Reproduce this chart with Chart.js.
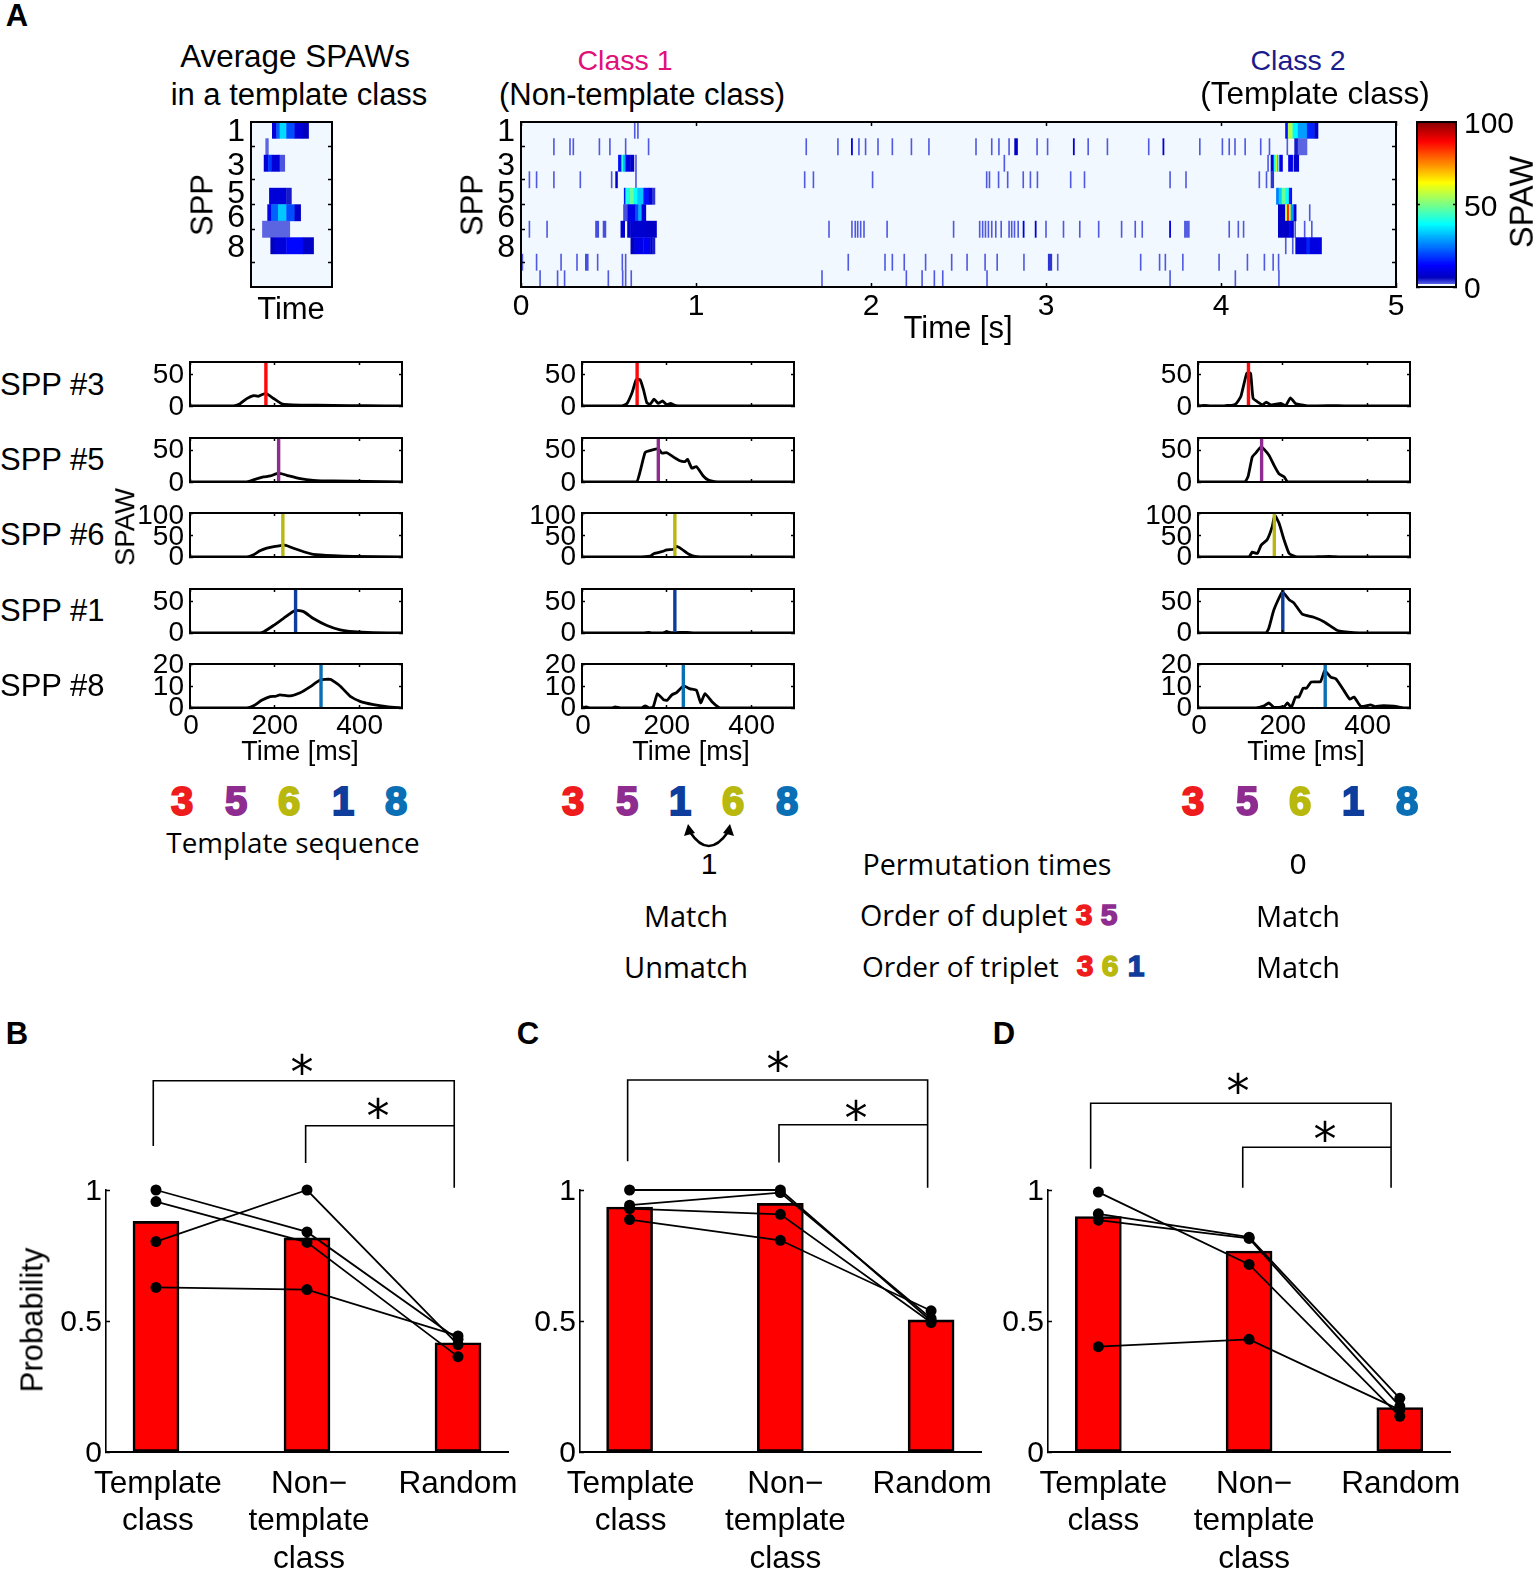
<!DOCTYPE html>
<html><head><meta charset="utf-8">
<script src="https://cdn.jsdelivr.net/npm/chart.js@4"></script>
<style>
html,body{margin:0;padding:0;background:#fff;width:1536px;height:1569px;overflow:hidden}
canvas{position:absolute;display:block}
.t{position:absolute;white-space:nowrap;font-family:"Liberation Sans",Arial,sans-serif;color:#000;line-height:1;transform:translate(-50%,-50%)}
svg{position:absolute;left:0;top:0}
</style></head><body>
<script>
/* ---------- raster data: row N spike times [s], runs are [start, end, SPAW] ---------- */
const rowLabels=['1','2','3','4','5','6','7','8','9','10'];
const heatYTickIndex=[0,2,4,5,7];
const heatYTickShift=[2,3,-2,5,2];
const row1Spikes=[0.65,0.668];
const row2Spikes=[0.188,0.28,0.299,0.448,0.508,0.598,0.729,1.63,1.811,1.931,1.969,2.04,2.122,2.231,2.331,2.6,2.69,2.731,2.789,2.949,3.009,3.241,3.351,3.587,3.879,4.008,4.047,4.08,4.138,4.227,4.277,4.379];
const row3Spikes=[0.657,2.762,4.269];
const row4Spikes=[0.048,0.089,0.188,0.339,0.518,0.657,1.621,1.671,2.009,2.661,2.677,2.729,2.781,2.87,2.911,2.951,3.141,3.22,3.709,3.8,4.219,4.26];
const row5Spikes=[];
const row6Spikes=[4.507];
const row7Spikes=[0.048,0.149,1.76,1.891,1.91,1.924,1.941,1.96,2.092,2.472,2.621,2.638,2.654,2.671,2.69,2.713,2.744,2.789,2.804,2.82,2.841,3.0,3.1,3.193,3.301,3.432,3.51,3.55,4.047,4.099,4.129,4.424,4.478,4.519];
const row8Spikes=[4.37,4.41];
const row9Spikes=[0.008,0.089,0.229,0.32,0.438,0.579,0.598,1.87,2.08,2.122,2.19,2.312,2.461,2.549,2.652,2.721,2.874,3.067,3.541,3.649,3.682,3.782,3.989,4.151,4.248,4.298,4.329];
const row10Spikes=[0.109,0.209,0.249,0.499,0.581,0.598,0.63,1.72,2.202,2.292,2.362,2.41,2.663,3.709,4.082,4.331];
const row1Runs=[[4.368,4.383,14],[4.383,4.41,55],[4.41,4.44,37],[4.44,4.492,28],[4.492,4.534,16],[4.534,4.555,6]];
const row2Runs=[[1.887,1.895,8],[2.82,2.838,6],[3.155,3.163,8],[3.667,3.675,8],[4.42,4.44,4],[4.44,4.492,1.2]];
const row3Runs=[[0.556,0.575,14],[0.575,0.585,42],[0.585,0.598,30],[0.598,0.625,9],[0.625,0.646,6],[4.285,4.302,8],[4.302,4.313,40],[4.313,4.322,58],[4.322,4.327,30],[4.334,4.352,9],[4.385,4.41,10],[4.416,4.445,7]];
const row4Runs=[[0.54,0.552,6],[4.285,4.302,3]];
const row5Runs=[[0.589,0.598,15],[0.598,0.625,40],[0.625,0.645,48],[0.645,0.665,38],[0.665,0.7,32],[0.7,0.73,14],[0.73,0.75,8],[0.75,0.766,3],[4.316,4.331,25],[4.331,4.348,33],[4.348,4.368,48],[4.368,4.389,38],[4.389,4.405,14]];
const row6Runs=[[0.585,0.61,2],[0.61,0.655,10],[0.655,0.672,20],[0.672,0.69,30],[0.69,0.714,8],[4.327,4.368,6],[4.368,4.378,60],[4.378,4.389,85],[4.389,4.399,60],[4.399,4.416,28],[4.416,4.43,7]];
const row7Runs=[[0.425,0.445,2],[0.468,0.486,2],[0.57,0.593,7],[0.608,0.625,7],[0.625,0.72,7],[0.72,0.775,6],[2.868,2.876,8],[2.937,2.945,8],[3.705,3.713,8],[3.79,3.82,1.5],[4.327,4.39,6],[4.39,4.405,12],[4.405,4.415,6]];
const row8Runs=[[0.627,0.65,5],[0.65,0.7,10],[0.7,0.74,11],[0.74,0.752,6],[0.752,0.766,4],[4.426,4.49,8],[4.49,4.505,16],[4.505,4.575,9]];
const row9Runs=[[0.367,0.385,2],[3.012,3.034,3]];
const row10Runs=[];
const avgRow1=[[131,158,8],[158,178,22],[178,219,34],[219,270,20],[270,321,8],[321,356,5]];
const avgRow2=[[90,108,1.2]];
const avgRow3=[[80,107,8],[107,127,18],[127,178,8],[178,209,1.8]];
const avgRow5=[[113,219,8],[219,250,4]];
const avgRow6=[[102,127,10],[127,168,22],[168,219,32],[219,270,20],[270,307,6]];
const avgRow7=[[70,240,1.2]];
const avgRow8=[[121,147,5],[147,219,8],[219,321,13],[321,387,6]];

/* ---------- SPAW traces: [time ms, SPAW] ---------- */
const leftSpp3=[[0,0],[102,0],[118,3.7],[134,11.8],[150,16.6],[161,15.5],[179,20],[197,12],[216,3.7],[232,2],[260,1.5],[338,1],[417,.5],[500,.2]];
const leftSpp5=[[0,0],[134,0],[157,5],[173,8],[189,9.6],[209,14],[228,10.7],[260,5.3],[291,2.7],[338,1.6],[417,1],[500,.3]];
const leftSpp6=[[0,0],[134,0],[150,5],[165,14],[181,20],[201,24],[224,27],[244,20],[268,12],[291,6],[338,3],[386,1.5],[500,0]];
const leftSpp1=[[0,0],[157,0],[173,1.6],[197,12],[220,23],[248,36],[268,34],[291,23],[323,12],[354,5],[386,2],[433,.5],[500,0]];
const leftSpp8=[[0,0],[134,0],[150,1],[169,3.5],[189,5.2],[201,5.3],[212,6],[236,5.5],[260,6.9],[283,9.6],[307,12.7],[331,13],[354,10],[378,5.3],[401,3],[433,1.5],[464,.6],[500,0]];
const midSpp3=[[0,0],[94,0],[106,3.7],[118,21],[128,42],[137,42],[145,26],[153,5],[161,3],[170,11],[180,4],[190,8],[200,2],[209,4],[219,1],[235,0],[500,0]];
const midSpp5=[[0,0],[128,0],[137,16.6],[149,47],[161,50],[180,53],[188,46],[200,46.5],[216,39.6],[231,33.7],[243,32.6],[249,36],[259,22],[270,24.6],[286,9.6],[298,3],[313,.5],[330,0],[500,0]];
const midSpp6=[[0,0],[129,0],[161,2],[170,8],[188,12],[200,16],[216,17.6],[223,24],[235,18],[251,7],[266,1.5],[300,0],[500,0]];
const midSpp1=[[0,0],[145,0],[157,1],[165,0],[190,0],[200,2],[212,.5],[247,1],[265,0],[500,0]];
const midSpp8=[[0,0],[10,.5],[20,0],[70,0],[78,.5],[90,0],[140,0],[149,1],[159,0],[168,.5],[178,6.5],[192,3.8],[201,3.5],[212,6],[223,7],[239,10],[255,8.7],[270,8],[280,2.3],[290,6.5],[306,3],[321,.5],[329,0],[500,0]];
const rightSpp3=[[0,0],[14,1],[30,0],[60,0],[69,.8],[80,1],[89,3],[101,15],[115,52],[124,52],[130,12],[144,5],[152,2],[161,6],[173,1.6],[195,4],[207,.6],[218,13],[230,4],[246,1.6],[258,0],[305,.5],[330,.5],[360,0],[500,0]];
const rightSpp5=[[0,0],[110,0],[118,8.5],[128,40],[136,46],[149,56],[167,43],[179,27],[191,13],[203,8.5],[211,.5],[225,0],[500,0]];
const rightSpp6=[[0,0],[120,0],[128,11],[140,8],[149,27],[163,39],[175,69],[181,95],[191,77],[203,39],[215,8],[230,1],[260,0],[310,1.5],[335,0],[500,0]];
const rightSpp1=[[0,0],[160,0],[167,7.5],[179,37],[199,65],[215,53],[226,48],[246,30],[273,25],[297,18],[329,4],[368,.5],[400,0],[500,0]];
const rightSpp8=[[0,0],[136,0],[156,1],[167,2.3],[179,.3],[203,.6],[211,2.3],[220,.3],[230,5],[238,5],[248,9],[256,9],[267,11.8],[289,12],[299,17],[313,14],[325,13.3],[344,8],[358,4],[368,5],[384,.8],[407,1.4],[418,.6],[431,1],[462,.8],[485,0],[500,0]];
const leftMarkers=[179,209,219,249,309];
const midMarkers=[130,180,219,219,239];
const rightMarkers=[119,150,180,200,300];
const markerColors=['#ff0a0a','#8e2c90','#b8b80e','#0f3d9c','#0a6fb5'];
const rowYMax=[70,70,100,70,20];
const rowYTicks=[[0,50],[0,50],[0,50,100],[0,50],[0,10,20]];
const timeTicks=[0,200,400];

/* ---------- probability panels ---------- */
const barTickLabels=[['Template','class'],['Non\u2212','template','class'],['Random']];
const positions=[1,2,3];
const probTicks=[0,0.5,1];
const barsB=[0.88,0.817,0.417];
const subjectsB=[[1,0.84,0.43],[0.956,0.8,0.364],[0.803,1,0.41],[0.628,0.62,0.443]];
const bracketOuterB=[[0.982,1.168],[0.982,1.417],[2.975,1.417],[2.975,1.009]];
const bracketInnerB=[[1.991,1.103],[1.991,1.245],[2.975,1.245]];
const barsC=[0.935,0.949,0.504];
const subjectsC=[[1,1,0.5],[0.942,0.99,0.51],[0.929,0.907,0.494],[0.887,0.808,0.539]];
const bracketOuterC=[[0.987,1.11],[0.987,1.42],[2.977,1.42],[2.977,1.009]];
const bracketInnerC=[[1.991,1.105],[1.991,1.249],[2.977,1.249]];
const barsD=[0.899,0.767,0.17];
const subjectsD=[[0.992,0.716,0.136],[0.909,0.82,0.205],[0.885,0.815,0.174],[0.402,0.43,0.161]];
const bracketOuterD=[[0.949,1.081],[0.949,1.331],[2.942,1.331],[2.942,1.009]];
const bracketInnerD=[[1.958,1.009],[1.958,1.163],[2.942,1.163]];

/* ---------- colour map ---------- */
const colorStops=[[0,[242,248,255]],[0.8,[242,248,255]],[1,[96,106,226]],[2,[70,80,222]],[5,[0,0,190]],[12.5,[0,0,255]],[37.5,[0,255,255]],[62.5,[255,255,0]],[87.5,[255,0,0]],[100,[128,0,0]]];
function colorFor(v){
  for(let i=1;i<colorStops.length;i++){
    const [b,cb]=colorStops[i],[a,ca]=colorStops[i-1];
    if(v<=b){const f=(v-a)/(b-a||1);return `rgb(${ca.map((c,k)=>Math.round(c+(cb[k]-c)*f)).join(',')})`;}
  }
  return 'rgb(128,0,0)';
}

/* ---------- helpers ---------- */
Chart.defaults.font.family='"Liberation Sans",Arial,sans-serif';
Chart.defaults.color='#000';
Chart.defaults.animation=false;
const BLACK='#000';
function fitTo(size){return s=>{if(s.isHorizontal())s.height=size;else s.width=size;s.paddingLeft=s.paddingRight=s.paddingTop=s.paddingBottom=0;};}
function canvasFor(plot,m){
  const c=document.createElement('canvas');
  c.width=plot.w+m.l+m.r;c.height=plot.h+m.t+m.b;
  c.style.left=(plot.x-m.l)+'px';c.style.top=(plot.y-m.t)+'px';
  c.style.width=c.width+'px';c.style.height=c.height+'px';
  document.body.appendChild(c);return c;
}
function axis(o){
  const tl=o.tick===0?0:-(o.tick||4);
  return {
    type:o.type||'linear',axis:o.axis,position:o.pos,min:o.min,max:o.max,reverse:!!o.reverse,offset:!!o.offset,
    display:true,
    border:{display:true,color:BLACK,width:o.bw||2,z:1},
    grid:{drawOnChartArea:false,drawTicks:tl!==0,color:BLACK,tickLength:tl,tickWidth:1.5,z:1},
    ticks:{display:!!o.labels,autoSkip:false,maxRotation:0,minRotation:0,
      font:{size:o.size||27,lineHeight:1.2},padding:(o.pad||6)-tl,color:BLACK,
      callback:o.cb||(v=>String(v))},
    afterBuildTicks:o.vals?(s=>{s.ticks=o.vals.map(v=>({value:v}));}):undefined,
    afterFit:s=>{fitTo(o.fit)(s);if((o.shift||o.shiftX)&&!s.__w){s.__w=1;const f=s._computeLabelItems.bind(s);
      s._computeLabelItems=a=>{const it=f(a);it.forEach((e,i)=>{const tr=e.options.translation;const d=Array.isArray(o.shift)?(o.shift[i]||0):(o.shift||0);const dx=o.shiftX?(o.shiftX[i]||0):0;e.options.translation=[tr[0]+dx,tr[1]+d];});return it;};}}
  };
}
const baseOpts=(scales,padding)=>({responsive:false,animation:false,events:[],devicePixelRatio:1,
  layout:{padding:padding||0},plugins:{legend:{display:false},tooltip:{enabled:false}},scales});
const heatBg={id:'heatBg',beforeDatasetsDraw(ch){const a=ch.chartArea,g=ch.ctx;g.save();g.fillStyle=colorFor(0);g.fillRect(a.left,a.top,a.width,a.height);g.restore();}};

function heatChart(plot,m,xMax,xVals,xLabels,cells){
  new Chart(canvasFor(plot,m),{type:'bar',plugins:[heatBg],
    data:{labels:rowLabels,datasets:[{data:cells.map(c=>({x:[c.s,c.e],y:c.r})),backgroundColor:cells.map(c=>colorFor(c.v)),barPercentage:1,categoryPercentage:1,inflateAmount:0.2}]},
    options:Object.assign(baseOpts({
      y:axis({type:'category',axis:'y',pos:'left',offset:true,fit:m.l,labels:true,size:32,vals:heatYTickIndex,shift:heatYTickShift,pad:6,cb:function(v){return rowLabels[v];}}),
      x:axis({axis:'x',pos:'bottom',min:0,max:xMax,fit:m.b,labels:xLabels,size:30,vals:xVals,tick:xVals.length?4:0,pad:2}),
      y2:axis({axis:'y',pos:'right',min:0.5,max:10.5,reverse:true,fit:m.r,vals:[1,3,5,6,8]}),
      x2:axis({axis:'x',pos:'top',min:0,max:xMax,fit:m.t,vals:xVals,tick:xVals.length?4:0})
    }),{indexAxis:'y'})});
}
function cellsFrom(spikeRows,runRows,spikeW){
  const out=[];
  spikeRows.forEach((list,i)=>list.forEach(t=>out.push({r:rowLabels[i],s:t-spikeW/2,e:t+spikeW/2,v:1.6})));
  runRows.forEach((list,i)=>list.forEach(q=>out.push({r:rowLabels[i],s:q[0],e:q[1],v:q[2]})));
  return out;
}

/* ---------- panel A: rasters ---------- */
heatChart({x:251,y:122,w:81,h:165},{l:34,r:6,t:10,b:6},500,[],false,
  cellsFrom([[],[],[],[],[],[],[],[],[],[]],[avgRow1,avgRow2,avgRow3,[],avgRow5,avgRow6,avgRow7,avgRow8,[],[]],0));
heatChart({x:521,y:122,w:875,h:165},{l:34,r:14,t:10,b:40},5,[0,1,2,3,4,5],true,
  cellsFrom([row1Spikes,row2Spikes,row3Spikes,row4Spikes,row5Spikes,row6Spikes,row7Spikes,row8Spikes,row9Spikes,row10Spikes],
            [row1Runs,row2Runs,row3Runs,row4Runs,row5Runs,row6Runs,row7Runs,row8Runs,row9Runs,row10Runs],0.007));

/* colour bar */
const barTicks=[0,50,100];
const barLevels=[];for(let i=0;i<128;i++)barLevels.push(i*100/128);
new Chart(canvasFor({x:1417,y:122,w:39,h:165},{l:4,r:70,t:14,b:14}),{type:'bar',
  data:{labels:[''],datasets:barLevels.map(v=>({data:[[v,v+100/128]],backgroundColor:colorFor(v),barPercentage:1,categoryPercentage:1,grouped:false,inflateAmount:0.4}))},
  options:baseOpts({
    x:axis({type:'category',axis:'x',pos:'bottom',fit:14,tick:0,vals:[],offset:true}),
    x2:axis({axis:'x',pos:'top',min:0,max:1,fit:14,tick:0,vals:[]}),
    yl:axis({axis:'y',pos:'left',min:0,max:100,fit:4,vals:barTicks,tick:3}),
    y:axis({axis:'y',pos:'right',min:0,max:100,fit:70,labels:true,size:30,vals:barTicks,tick:3,pad:8,shift:3})
  })});

/* ---------- panel A: SPAW traces ---------- */
const rowTops=[361.7,437.7,513.3,589,664.3];
const rowLabelShift=[[1,1],[1,0],[0,2,3],[0,1],[0,1,1]];
function tracePanel(plotX,series,markers){
  series.forEach((curve,i)=>{
    const last=i===series.length-1,m={l:70,r:8,t:16,b:last?36:16};
    const ymax=rowYMax[i];
    new Chart(canvasFor({x:plotX,y:rowTops[i],w:212,h:44},m),{type:'scatter',
      data:{datasets:[
        {data:[{x:markers[i],y:0},{x:markers[i],y:ymax}],showLine:true,borderColor:markerColors[i],borderWidth:3.4,pointRadius:0},
        {data:curve.map(p=>({x:p[0],y:p[1]})),showLine:true,borderColor:BLACK,borderWidth:2.8,pointRadius:0,tension:0.15}
      ]},
      options:baseOpts({
        x:axis({axis:'x',pos:'bottom',min:0,max:500,fit:m.b,labels:last,vals:timeTicks,tick:3,pad:1,size:28,shiftX:[1,0,0]}),
        y:axis({axis:'y',pos:'left',min:0,max:ymax,fit:m.l,labels:true,vals:rowYTicks[i],tick:3,pad:6,size:28,shift:rowLabelShift[i]}),
        x2:axis({axis:'x',pos:'top',min:0,max:500,fit:m.t,vals:timeTicks,tick:3}),
        y2:axis({axis:'y',pos:'right',min:0,max:ymax,fit:m.r,vals:rowYTicks[i],tick:3})
      })});
  });
}
tracePanel(190,[leftSpp3,leftSpp5,leftSpp6,leftSpp1,leftSpp8],leftMarkers);
tracePanel(582,[midSpp3,midSpp5,midSpp6,midSpp1,midSpp8],midMarkers);
tracePanel(1197.5,[rightSpp3,rightSpp5,rightSpp6,rightSpp1,rightSpp8],rightMarkers);

/* ---------- panels B, C, D ---------- */
function probPanel(plot,xMin,xMax,bars,subjects,outer,inner,labelDx){
  const m={l:100,r:10,t:124,b:118};
  const pts=a=>a.map(p=>({x:p[0],y:p[1]}));
  const ds=[];
  subjects.forEach(s=>ds.push({type:'line',data:s.map((v,i)=>({x:positions[i],y:v})),borderColor:BLACK,borderWidth:1.8,pointRadius:5.5,pointBackgroundColor:BLACK,pointBorderWidth:0,order:0,clip:false,tension:0}));
  [outer,inner].forEach(b=>ds.push({type:'line',data:pts(b),borderColor:BLACK,borderWidth:1.6,pointRadius:0,order:0,clip:false,tension:0}));
  ds.push({type:'bar',data:bars.map((v,i)=>({x:positions[i],y:v})),backgroundColor:'#ff0000',borderColor:BLACK,borderWidth:2.6,borderSkipped:false,barThickness:46,order:1});
  new Chart(canvasFor(plot,m),{data:{datasets:ds},
    options:baseOpts({
      x:axis({axis:'x',pos:'bottom',min:xMin,max:xMax,fit:m.b,labels:true,size:31.5,vals:positions,tick:0,pad:13,bw:2,cb:v=>barTickLabels[v-1],shiftX:labelDx}),
      y:axis({axis:'y',pos:'left',min:0,max:1,fit:m.l,labels:true,size:30,vals:probTicks,tick:4,pad:4,bw:1.6,shift:2})
    },{top:m.t,right:m.r})});
}
probPanel({x:106,y:1189.7,w:402,h:262.6},0.669,3.331,barsB,subjectsB,bracketOuterB,bracketInnerB,[2,2,0]);
probPanel({x:580,y:1189.7,w:401.7,h:262.6},0.671,3.331,barsC,subjectsC,bracketOuterC,bracketInnerC,[1,5,1]);
probPanel({x:1048.3,y:1189.7,w:402.7,h:262.6},0.666,3.333,barsD,subjectsD,bracketOuterD,bracketInnerD,[5,5,1]);

/* ---------- text ---------- */
function T(s,x,y,size,o={}){
  const d=document.createElement('div');d.className='t';d.textContent=s;
  d.style.left=x+'px';d.style.top=y+'px';d.style.fontSize=size+'px';
  if(o.color)d.style.color=o.color;
  if(o.bold)d.style.fontWeight='bold';
  if(o.font)d.style.fontFamily=o.font;
  if(o.rot)d.style.transform=`translate(-50%,-50%) rotate(${o.rot}deg)`;
  if(o.left)d.style.transform='translate(0,-50%)';
  if(o.stroke){d.style.webkitTextStroke=o.stroke+'px '+o.color;d.style.fontWeight='bold';}
  document.body.appendChild(d);
}
[['A',17,15],['B',17,1033],['C',528,1033],['D',1004,1033]].forEach(a=>T(a[0],a[1],a[2],31,{bold:true}));
T('Average SPAWs',295,57,31.4);T('in a template class',299,94,31);
T('SPP',202,205,31,{rot:-90});T('SPP',472,205,31,{rot:-90});T('Time',291,308,31);
T('Class 1',625,60,28.5,{color:'#e0107a'});T('(Non-template class)',642,94,31);
T('Class 2',1298,60,28.5,{color:'#1b1b8c'});T('(Template class)',1315,94,31.5);
T('Time [s]',958,327,31);T('SPAW',1522,202,32.5,{rot:-90});
[['SPP #3',384],['SPP #5',459],['SPP #6',534],['SPP #1',610],['SPP #8',685]].forEach(a=>T(a[0],0,a[1],31,{left:true}));
T('SPAW',125,527,27.5,{rot:-90});
[300,691,1306].forEach(x=>T('Time [ms]',x,751,27));
const seqA=['3','5','6','1','8'],seqB=['3','5','1','6','8'];
const colorOf={'3':'#ee1c1c','5':'#8e2c90','6':'#b8b80e','1':'#0f3d9c','8':'#0a6fb5'};
[[seqA,[182,236,289,343,396]],[seqB,[573,627,680,733,787]],[seqA,[1193,1247,1300,1353,1407]]].forEach(r=>
  r[0].forEach((c,i)=>T(c,r[1][i],801,40,{color:colorOf[c],stroke:2,font:'"Liberation Sans"'})));
const OS='"Open Sans"';
T('Template sequence',293,843,27.8,{font:OS});
T('1',709,864,30);T('Permutation times',987,864,28.7,{font:OS});T('0',1298,864,30);
T('Match',686,915,29,{font:OS});T('Order of duplet',860,915,28.7,{font:OS,left:true});T('Match',1298,915,29,{font:OS});
T('Unmatch',686,966,29,{font:OS});T('Order of triplet',862,966,28,{font:OS,left:true});T('Match',1298,966,29,{font:OS});
[['3',1084,915],['5',1109,915],['3',1085,966],['6',1110,966],['1',1136,966]].forEach(a=>T(a[0],a[1],a[2],30,{color:colorOf[a[0]],stroke:1.5}));
T('Probability',32,1320,31,{rot:-90});
[[302,1063],[378,1107],[778,1060],[856,1109],[1238,1082],[1325,1130]].forEach(a=>T('*',a[0],a[1]+9,46,{font:'"DejaVu Sans"'}));

/* swap arrow */
const svg=document.createElementNS('http://www.w3.org/2000/svg','svg');
svg.setAttribute('width','1536');svg.setAttribute('height','1569');
svg.innerHTML='<path d="M690 832 Q708.5 860 728 832" fill="none" stroke="#000" stroke-width="2.6"/><path d="M688 824 L684 836 L695 833 Z M730 824 L734 836 L723 833 Z" fill="#000"/>';
document.body.appendChild(svg);
</script>
</body></html>
